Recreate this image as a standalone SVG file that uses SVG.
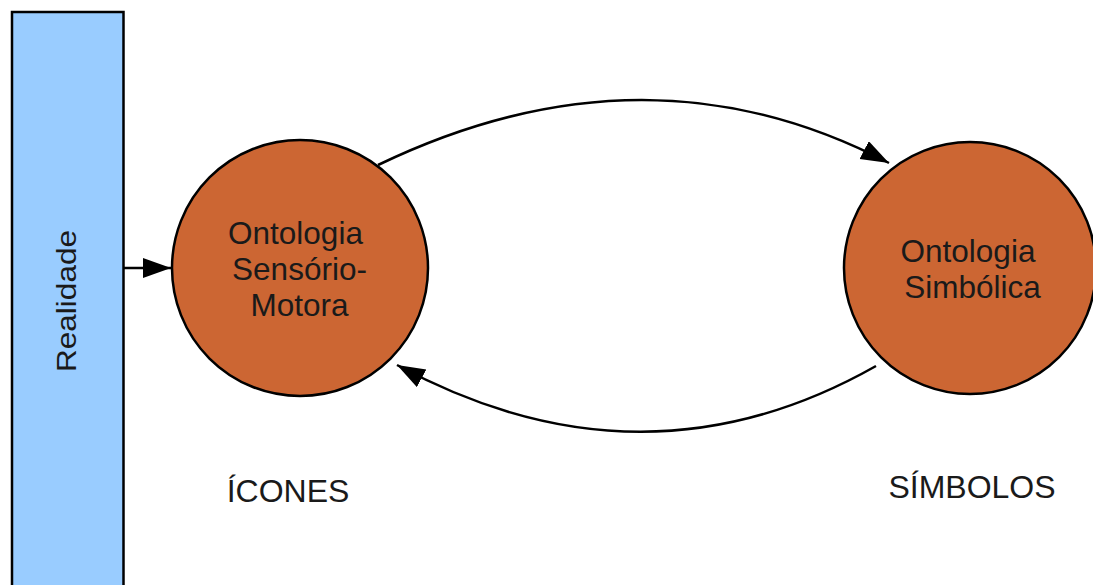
<svg xmlns="http://www.w3.org/2000/svg" width="1093" height="585" viewBox="0 0 1093 585">
<style>
.t{font-family:"Liberation Sans",Arial,sans-serif;font-size:31.5px;fill:#1a1a1a;text-anchor:middle}
.node{fill:#cc6633;stroke:#000;stroke-width:2.5}
.edge{fill:none;stroke:#000;stroke-width:2.5}
</style>
<defs>
<marker id="ah" markerUnits="userSpaceOnUse" markerWidth="30" markerHeight="22" refX="28" refY="10" orient="auto">
<path d="M0,0 L28,10 L0,20 Z" fill="#000"/>
</marker>
</defs>
<rect width="1093" height="585" fill="#fff"/>
<g id="realidade">
<rect x="12" y="12" width="111.5" height="590" fill="#99ccff" stroke="#000" stroke-width="2.5"/>
<text class="t" style="font-size:27px" transform="translate(76,301) rotate(-90)" textLength="142" lengthAdjust="spacingAndGlyphs">Realidade</text>
</g>
<g id="sensorio">
<circle class="node" cx="300" cy="268" r="128"/>
<text class="t" x="295.5" y="244">Ontologia</text>
<text class="t" x="299.5" y="280">Sensório-</text>
<text class="t" x="299.5" y="316">Motora</text>
</g>
<g id="simbolica">
<circle class="node" cx="970" cy="268" r="126"/>
<text class="t" x="968" y="262">Ontologia</text>
<text class="t" x="972.5" y="298">Simbólica</text>
</g>
<g id="icones"><text class="t" x="288" y="502" style="font-size:32px">ÍCONES</text></g>
<g id="simbolos"><text class="t" x="972" y="498" style="font-size:32px">SÍMBOLOS</text></g>
<g id="connectors">
<line class="edge" x1="124" y1="268" x2="171" y2="268" marker-end="url(#ah)"/>
<path class="edge" d="M378,165 Q646,36 889,163" marker-end="url(#ah)"/>
<path class="edge" d="M876,366 Q643,498 397,365" marker-end="url(#ah)"/>
</g>
</svg>
